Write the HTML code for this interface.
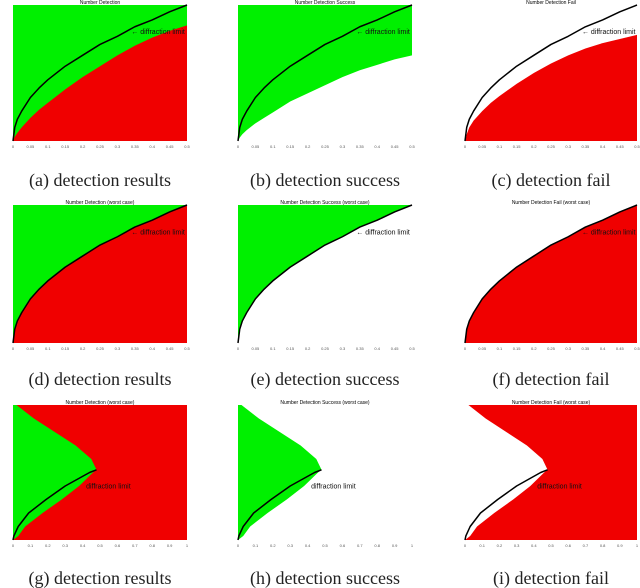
<!DOCTYPE html>
<html><head><meta charset="utf-8"><style>
body{margin:0;background:#fff;width:640px;height:588px;overflow:hidden}
svg{display:block}
.cap{font-family:"Liberation Serif",serif;font-size:18px;fill:#222}
.tk{font-family:"Liberation Sans",sans-serif;font-size:4px;fill:#555}
</style></head><body>
<svg id="fig" width="640" height="588"></svg>
<script>
const xs=[0,.01,.025,.05,.1,.15,.2,.3,.4,.5,.6,.7,.8,.9,1];
const diffY=[0,.1,.16,.22,.32,.39,.45,.55,.63,.71,.77,.84,.89,.95,1];
const redTopA=[0,.03,.06,.1,.17,.23,.28,.38,.47,.55,.63,.7,.76,.81,.85];
const greenBotB=[0,.025,.05,.08,.13,.17,.21,.29,.35,.41,.47,.52,.56,.6,.63];
const redTopC=[0,.05,.1,.15,.22,.28,.33,.42,.5,.57,.63,.68,.72,.75,.78];
const ys3=[0,.03,.1,.2,.3,.4,.5,.52,.6,.7,.8,.9,1];
const greenX3=[0,.03,.07,.17,.28,.38,.46,.48,.45,.36,.24,.12,.02];
const lineYs3=[0,.03,.1,.2,.3,.4,.5,.52];
const lineX3=[0,.005,.03,.09,.19,.3,.44,.48];
const captions=["(a) detection results","(b) detection success","(c) detection fail","(d) detection results","(e) detection success","(f) detection fail","(g) detection results","(h) detection success","(i) detection fail"];
const titles=["Number Detection","Number Detection Success","Number Detection Fail","Number Detection (worst case)","Number Detection Success (worst case)","Number Detection Fail (worst case)","Number Detection (worst case)","Number Detection Success (worst case)","Number Detection Fail (worst case)"];
const G="#00f000",R="#f00000";
const svg=document.getElementById('fig');const NS="http://www.w3.org/2000/svg";
function mk(t,a,p){const e=document.createElementNS(NS,t);for(const k in a)e.setAttribute(k,a[k]);(p||svg).appendChild(e);return e;}
const cols=[[13,187],[238,412],[465,637]];
const rows=[[5,141],[205,343],[405,540]];
const capY=[186,385,584];
for(let r=0;r<3;r++)for(let c=0;c<3;c++){
 const i=r*3+c;const [x0,x1]=cols[c];const [y0,y1]=rows[r];
 const sx=v=>x0+v*(x1-x0), sy=v=>y1-v*(y1-y0);
 const g=mk('g',{});
 
 
 const rect=(f)=>{const e=mk('rect',{x:x0,y:y0,width:x1-x0,height:y1-y0,fill:f},g);};
 const under=(arr,f)=>{let p=xs.map((x,k)=>sx(x)+','+sy(arr[k])).join(' ')+' '+sx(1)+','+sy(0);const e=mk('polygon',{points:p,fill:f},g);};
 const over=(arr,f)=>{let p=xs.map((x,k)=>sx(x)+','+sy(arr[k])).join(' ')+' '+sx(1)+','+sy(1)+' '+sx(0)+','+sy(1);const e=mk('polygon',{points:p,fill:f},g);};
 const lobe=(f)=>{let p=ys3.map((y,k)=>sx(greenX3[k])+','+sy(y)).join(' ')+' '+sx(0)+','+sy(1);const e=mk('polygon',{points:p,fill:f},g);};
 if(r<2){
  if(i==0){rect(G);under(redTopA,R);}
  if(i==1){over(greenBotB,G);}
  if(i==2){under(redTopC,R);}
  if(i==3){rect(G);under(diffY,R);}
  if(i==4){over(diffY,G);}
  if(i==5){under(diffY,R);}
  const l=mk('polyline',{points:xs.map((x,k)=>sx(x)+','+sy(diffY[k])).join(' '),fill:'none',stroke:'#000','stroke-width':1.5,'stroke-linejoin':'round'},g);
  
  const t=mk('text',{x:sx(.68),y:sy(.8)+2,class:'tk',style:'font-size:7px;fill:#111'},g);t.textContent='← diffraction limit';
  
 }else{
  if(i==6){rect(R);lobe(G);}
  if(i==7){lobe(G);}
  if(i==8){rect(R);lobe('#fff');}
  const l=mk('polyline',{points:lineYs3.map((y,k)=>sx(lineX3[k])+','+sy(y)).join(' '),fill:'none',stroke:'#000','stroke-width':1.5,'stroke-linejoin':'round'},g);
  
  const t=mk('text',{x:sx(.42),y:sy(.38),class:'tk',style:'font-size:7px;fill:#111'},g);t.textContent='diffraction limit';
  
 }
 const ti=mk('text',{x:(x0+x1)/2,y:y0-1,class:'tk','text-anchor':'middle',style:'font-size:5px;fill:#000'},g);ti.textContent=titles[i];
 
 for(let k=0;k<=10;k++){const tt=mk('text',{x:sx(k/10),y:y1+7,class:'tk','text-anchor':'middle'},g);tt.textContent=(r==2?k/10:k/20).toString();
  }
 const cp=mk('text',{x:(x0+x1)/2,y:capY[r],class:'cap','text-anchor':'middle'},g);cp.textContent=captions[i];
 
}
</script>
</body></html>
